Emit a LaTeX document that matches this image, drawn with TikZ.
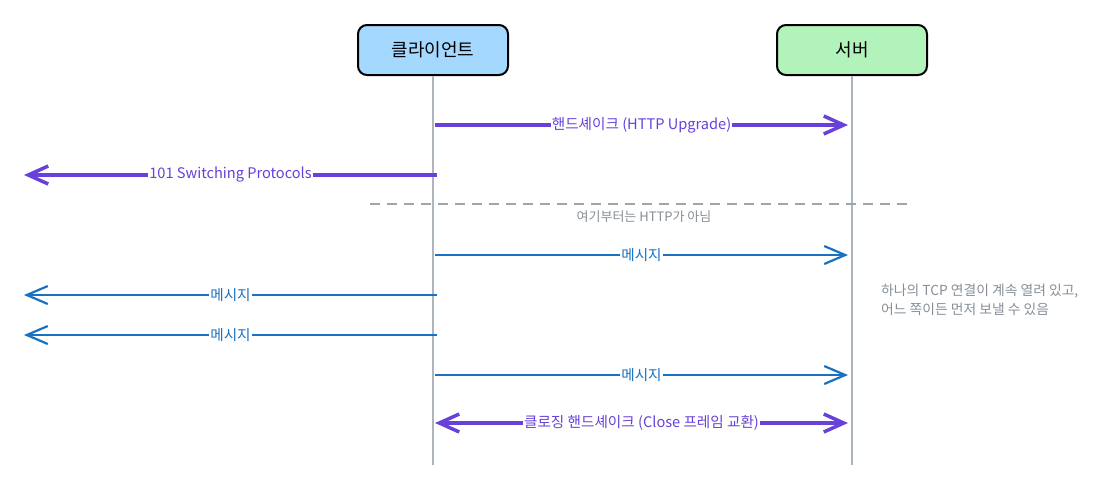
\documentclass[tikz,border=0pt]{standalone}
\usepackage{fontspec}
\setmainfont{Noto Sans CJK KR}
\usetikzlibrary{arrows.meta}
\definecolor{boxblue}{HTML}{A5D8FF}
\definecolor{boxgreen}{HTML}{B2F2BB}
\definecolor{violet}{HTML}{6741D9}
\definecolor{msgblue}{HTML}{1971C2}
\definecolor{lifegray}{HTML}{ADB5BD}
\definecolor{notegray}{HTML}{868E96}
\tikzset{
  actor/.style={draw=black, line width=2pt, rounded corners=9pt, minimum width=150pt, minimum height=50pt, font=\fontsize{18}{21}\selectfont},
  lifeline/.style={draw=lifegray, line width=1.2pt},
  hs/.style={draw=violet, line width=3.5pt, -{Straight Barb[length=20pt,width=18pt,line width=3.5pt]}},
  hsboth/.style={draw=violet, line width=3.5pt, {Straight Barb[length=20pt,width=18pt,line width=3.5pt]}-{Straight Barb[length=20pt,width=18pt,line width=3.5pt]}},
  msg/.style={draw=msgblue, line width=2.2pt, -{Straight Barb[length=21pt,width=18pt,line width=2.2pt]}},
  hslabel/.style={fill=white, inner sep=1pt, text=violet, font=\fontsize{14.6}{16}\selectfont},
  msglabel/.style={fill=white, inner sep=1pt, text=msgblue, font=\fontsize{14.6}{16}\selectfont},
  note/.style={text=notegray, font=\fontsize{13.8}{19}\selectfont, align=left, anchor=north west, inner sep=0pt},
  small/.style={text=notegray, font=\fontsize{13}{15}\selectfont, inner sep=0pt},
}
\begin{document}
\begin{tikzpicture}[x=1pt, y=-1pt]
\useasboundingbox (0,0) rectangle (1102,488);
\node[actor, fill=boxblue] (client) at (433,50) {클라이언트};
\node[actor, fill=boxgreen] (server) at (852,50) {서버};
\coordinate (cend) at (433,465);
\coordinate (send) at (852,465);
\draw[lifeline] (client.south) -- (cend);
\draw[lifeline] (server.south) -- (send);
% endpoints
\coordinate (c1) at (435,125); \coordinate (s1) at (848,125);
\coordinate (c2) at (437,175); \coordinate (l2) at (24,175);
\coordinate (c3) at (435,255); \coordinate (s3) at (848,255);
\coordinate (c4) at (437,295); \coordinate (l4) at (24,295);
\coordinate (c5) at (437,335); \coordinate (l5) at (24,335);
\coordinate (c6) at (435,375); \coordinate (s6) at (848,375);
\coordinate (c7) at (435,423); \coordinate (s7) at (848,423);
\coordinate (d1) at (370,204); \coordinate (d2) at (910,204);
\draw[hs] (c1) -- node[hslabel] (t1) {핸드셰이크 (HTTP Upgrade)} (s1);
\draw[hs] (c2) -- node[hslabel] (t2) {101 Switching Protocols} (l2);
\draw[draw=notegray!80, line width=1.3pt, dash pattern=on 10pt off 7pt] (d1) -- (d2);
\node[small] (t0) at (644,217) {여기부터는 HTTP가 아님};
\draw[msg] (c3) -- node[msglabel] (t3) {메시지} (s3);
\draw[msg] (c4) -- node[msglabel] (t4) {메시지} (l4);
\draw[msg] (c5) -- node[msglabel] (t5) {메시지} (l5);
\draw[msg] (c6) -- node[msglabel] (t6) {메시지} (s6);
\draw[hsboth] (c7) -- node[hslabel] (t7) {클로징 핸드셰이크 (Close 프레임 교환)} (s7);
\node[note] (n1) at (881,284) {하나의 TCP 연결이 계속 열려 있고,\\어느 쪽이든 먼저 보낼 수 있음};
\end{tikzpicture}
\end{document}
